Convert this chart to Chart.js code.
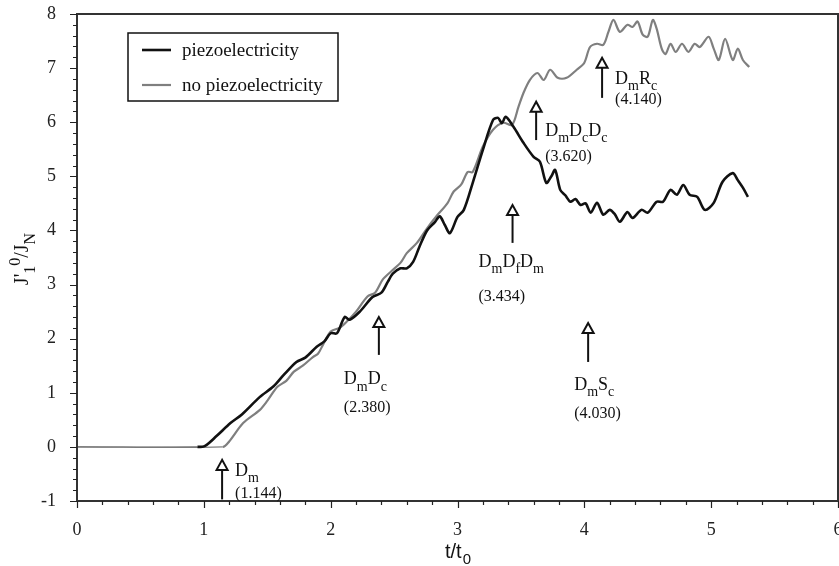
<!DOCTYPE html>
<html>
<head>
<meta charset="utf-8">
<script src="https://cdn.jsdelivr.net/npm/chart.js@4.4.1/dist/chart.umd.min.js"></script>
<style>
  html, body { margin: 0; padding: 0; background: #fff; }
</style>
</head>
<body>
<canvas id="chart" width="839" height="566"></canvas>
<script>
// values
const piezoT = [0, 0.95, 1.01, 1.1, 1.21, 1.3, 1.44, 1.55, 1.63, 1.73, 1.8, 1.89, 1.95, 2.0, 2.05, 2.11, 2.15, 2.23, 2.33,
  2.4, 2.45, 2.49, 2.55, 2.6, 2.65, 2.7, 2.76, 2.82, 2.86, 2.9, 2.94, 3.0, 3.05, 3.12, 3.2, 3.28, 3.32, 3.35, 3.38,
  3.44, 3.52, 3.6, 3.65, 3.7, 3.74, 3.77, 3.81, 3.85, 3.89, 3.93, 3.97, 4.01, 4.05, 4.1, 4.15, 4.2, 4.24, 4.28, 4.34,
  4.38, 4.45, 4.5, 4.57, 4.62, 4.68, 4.73, 4.78, 4.83, 4.89, 4.95, 5.02, 5.09, 5.17, 5.21, 5.25, 5.29];
const piezoV = [0, 0, 0.02, 0.2, 0.44, 0.6, 0.92, 1.12, 1.33, 1.57, 1.65, 1.85, 1.95, 2.1, 2.1, 2.4, 2.35, 2.5, 2.77,
  2.85, 3.05, 3.2, 3.3, 3.3, 3.42, 3.7, 4.0, 4.15, 4.26, 4.1, 3.95, 4.25, 4.38, 4.88, 5.49, 6.04, 6.08, 5.98, 6.1,
  5.92, 5.62, 5.36, 5.27, 4.88, 5.0, 5.12, 4.75, 4.65, 4.53, 4.58, 4.47, 4.5, 4.33, 4.51, 4.29, 4.38, 4.3, 4.16, 4.34,
  4.23, 4.38, 4.33, 4.53, 4.53, 4.75, 4.66, 4.84, 4.66, 4.62, 4.38, 4.51, 4.9, 5.06, 4.93, 4.79, 4.62];

const noPiezoT = [0, 1.15, 1.2, 1.31, 1.44, 1.5, 1.58, 1.65, 1.71, 1.78, 1.86, 1.9, 1.94, 2.0, 2.07, 2.12, 2.2, 2.29,
  2.35, 2.41, 2.48, 2.55, 2.6, 2.68, 2.76, 2.84, 2.92, 2.97, 3.03, 3.08, 3.12, 3.2, 3.28, 3.36, 3.43, 3.48, 3.52, 3.57,
  3.63, 3.68, 3.73, 3.79, 3.86, 3.94, 4.0, 4.045, 4.1, 4.15, 4.19, 4.23, 4.28, 4.34, 4.38, 4.42, 4.46, 4.5, 4.54, 4.57,
  4.61, 4.64, 4.68, 4.72, 4.77, 4.82, 4.87, 4.91, 4.98, 5.02, 5.06, 5.11, 5.17, 5.21, 5.25, 5.3];
const noPiezoV = [0, 0, 0.1, 0.44, 0.68, 0.85, 1.11, 1.22, 1.39, 1.5, 1.66, 1.72, 1.89, 2.13, 2.2, 2.3, 2.5, 2.78,
  2.85, 3.09, 3.25, 3.4, 3.58, 3.77, 4.04, 4.28, 4.5, 4.72, 4.85, 5.08, 5.08, 5.55, 5.86, 5.99, 5.95, 6.28, 6.54, 6.78,
  6.91, 6.78, 6.97, 6.82, 6.82, 6.97, 7.1, 7.39, 7.45, 7.43, 7.67, 7.89, 7.67, 7.8, 7.76, 7.86, 7.62, 7.58, 7.89, 7.73,
  7.36, 7.26, 7.45, 7.3, 7.45, 7.3, 7.45, 7.39, 7.58, 7.36, 7.15, 7.54, 7.15, 7.36, 7.15, 7.02];

const seriesNames = ['piezoelectricity', 'no piezoelectricity'];

// damage events: time and mode label ('_' = subscript)
const eventTimes = [1.144, 2.380, 3.434, 3.620, 4.140, 4.030];
const eventNames = ['D_m', 'D_mD_c', 'D_mD_fD_m', 'D_mD_cD_c', 'D_mR_c', 'D_mS_c'];

// arrow geometry (tip / tail in y units, label offsets in px from tip)
const arrowLayout = [
  { tip: -0.24, tail: -0.97, dx: 13,  dy1: 10, dy2: 32 },
  { tip: 2.40,  tail: 1.70,  dx: -35, dy1: 61, dy2: 89 },
  { tip: 4.47,  tail: 3.77,  dx: -34, dy1: 56, dy2: 90 },
  { tip: 6.38,  tail: 5.67,  dx: 9,   dy1: 28, dy2: 53 },
  { tip: 7.19,  tail: 6.45,  dx: 13,  dy1: 20, dy2: 40 },
  { tip: 2.29,  tail: 1.57,  dx: -14, dy1: 61, dy2: 89 },
];

const SERIF = '"Liberation Serif", "Times New Roman", serif';
const SANS = '"Liberation Sans", Arial, sans-serif';

function toPoints(ts, vs) {
  return ts.map((t, i) => ({ x: t, y: vs[i] }));
}

// draw text with _x subscripts and ^x superscripts
function richText(ctx, str, x, y, size, align) {
  const parts = [];
  for (let i = 0; i < str.length; i++) {
    const c = str[i];
    if ((c === '_' || c === '^') && i + 1 < str.length) {
      parts.push({ t: str[i + 1], k: c });
      i++;
    } else {
      parts.push({ t: c, k: '' });
    }
  }
  const sub = Math.round(size * 0.78);
  let w = 0;
  parts.forEach(p => {
    ctx.font = (p.k ? sub : size) + 'px ' + SERIF;
    p.w = ctx.measureText(p.t).width;
    w += p.w;
  });
  let cx = align === 'center' ? x - w / 2 : x;
  ctx.textAlign = 'left';
  ctx.textBaseline = 'alphabetic';
  parts.forEach(p => {
    ctx.font = (p.k ? sub : size) + 'px ' + SERIF;
    let dy = 0;
    if (p.k === '_') dy = size * 0.36;
    if (p.k === '^') dy = -size * 0.42;
    ctx.fillText(p.t, cx, y + dy);
    cx += p.w;
  });
}

const paperPlugin = {
  id: 'paper',
  afterDatasetsDraw(chart) {
    const { ctx, chartArea: a, scales: { x, y } } = chart;
    ctx.save();

    // frame
    ctx.strokeStyle = '#333';
    ctx.lineWidth = 2;
    ctx.strokeRect(a.left, a.top, a.right - a.left, a.bottom - a.top);

    // major and minor ticks, outside
    ctx.lineWidth = 1.2;
    ctx.strokeStyle = '#222';
    ctx.beginPath();
    for (let i = 0; i <= 30; i++) {
      const px = Math.round(x.getPixelForValue(x.min + i * 0.2)) + 0.5;
      const len = i % 5 === 0 ? 7 : 4;
      ctx.moveTo(px, a.bottom);
      ctx.lineTo(px, a.bottom + len);
    }
    for (let i = 0; i <= 45; i++) {
      const py = Math.round(y.getPixelForValue(y.min + i * 0.2)) + 0.5;
      const len = i % 5 === 0 ? 7 : 4;
      ctx.moveTo(a.left, py);
      ctx.lineTo(a.left - len, py);
    }
    ctx.stroke();

    // event arrows
    eventTimes.forEach((t, i) => {
      const L = arrowLayout[i];
      const px = x.getPixelForValue(t);
      const tip = y.getPixelForValue(L.tip);
      const tail = y.getPixelForValue(L.tail);
      ctx.strokeStyle = '#111';
      ctx.lineWidth = 2;
      ctx.beginPath();
      ctx.moveTo(px, tail);
      ctx.lineTo(px, tip + 10);
      ctx.stroke();
      ctx.beginPath();
      ctx.moveTo(px, tip);
      ctx.lineTo(px - 5.5, tip + 10);
      ctx.lineTo(px + 5.5, tip + 10);
      ctx.closePath();
      ctx.fillStyle = '#fff';
      ctx.fill();
      ctx.stroke();
      ctx.fillStyle = '#111';
      richText(ctx, eventNames[i], px + L.dx, tip + L.dy1 + 6, 18, 'left');
      richText(ctx, '(' + t.toFixed(3) + ')', px + L.dx, tip + L.dy2 + 6, 16, 'left');
    });

    // legend
    ctx.strokeStyle = '#111';
    ctx.lineWidth = 1.5;
    ctx.strokeRect(128, 33, 210, 68);
    chart.data.datasets.forEach((ds, i) => {
      const ly = 50 + i * 35;
      ctx.strokeStyle = ds.borderColor;
      ctx.lineWidth = ds.borderWidth;
      ctx.beginPath();
      ctx.moveTo(142, ly);
      ctx.lineTo(171, ly);
      ctx.stroke();
      ctx.fillStyle = '#111';
      ctx.font = '19px ' + SERIF;
      ctx.textAlign = 'left';
      ctx.textBaseline = 'middle';
      ctx.fillText(ds.label, 182, ly + 1);
    });

    // axis titles
    ctx.fillStyle = '#111';
    ctx.textAlign = 'left';
    ctx.textBaseline = 'alphabetic';
    ctx.font = '20px ' + SANS;
    ctx.fillText('t/t', 445, 558);
    const w = ctx.measureText('t/t').width;
    ctx.font = '15px ' + SANS;
    ctx.fillText('0', 445 + w + 1, 564);

    ctx.translate(28, 259);
    ctx.rotate(-Math.PI / 2);
    richText(ctx, "J'_1^0/J_N", 0, 0, 20, 'center');
    ctx.restore();
  }
};

const flatWidth = c => (c.p0.parsed.y === 0 && c.p1.parsed.y === 0 ? 1.2 : undefined);

new Chart(document.getElementById('chart'), {
  type: 'line',
  data: {
    datasets: [
      {
        label: seriesNames[0],
        data: toPoints(piezoT, piezoV),
        borderColor: '#111',
        borderWidth: 2.6,
        pointRadius: 0,
        tension: 0.3,
        order: 0,
        segment: { borderWidth: flatWidth, borderColor: c => (flatWidth(c) ? '#777' : undefined) },
      },
      {
        label: seriesNames[1],
        data: toPoints(noPiezoT, noPiezoV),
        borderColor: '#7f7f7f',
        borderWidth: 2.2,
        pointRadius: 0,
        tension: 0.3,
        order: 1,
        segment: { borderWidth: flatWidth },
      },
    ],
  },
  options: {
    responsive: false,
    animation: false,
    layout: { padding: { top: 14, right: 1, left: 0, bottom: 0 } },
    plugins: { legend: { display: false }, tooltip: { enabled: false } },
    scales: {
      x: {
        type: 'linear',
        min: 0,
        max: 6,
        grid: { display: false },
        border: { display: false },
        ticks: { stepSize: 1, padding: 10, color: '#222', font: { family: SERIF, size: 18 } },
        afterFit(scale) {
          scale.height = 65;
          scale.paddingLeft = 0;
          scale.paddingRight = 0;
        },
      },
      y: {
        min: -1,
        max: 8,
        grid: { display: false },
        border: { display: false },
        ticks: { stepSize: 1, padding: 13, color: '#222', font: { family: SERIF, size: 18 } },
        afterFit(scale) {
          scale.width = 77;
          scale.paddingTop = 0;
          scale.paddingBottom = 0;
        },
      },
    },
  },
  plugins: [paperPlugin],
});
</script>
</body>
</html>
